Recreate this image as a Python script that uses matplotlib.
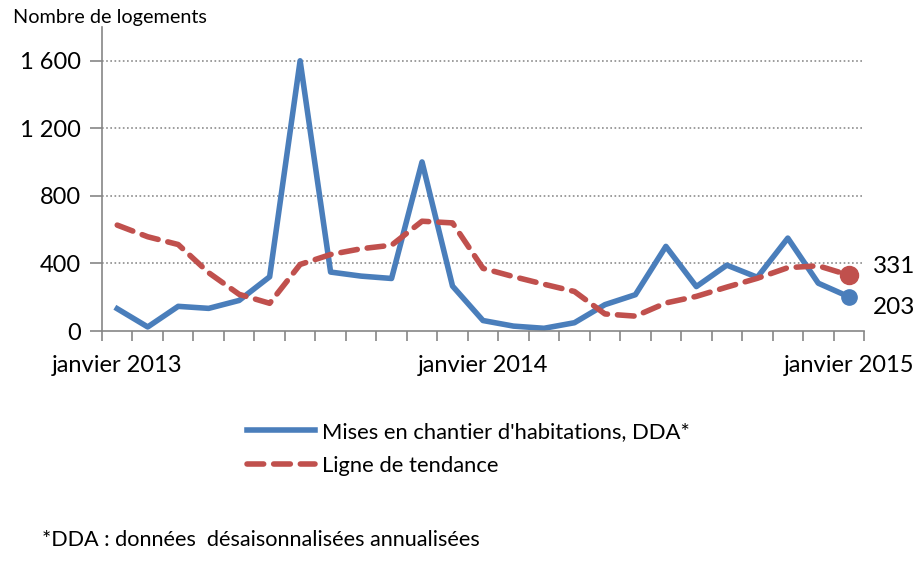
import matplotlib.pyplot as plt
from matplotlib.ticker import FixedLocator, FuncFormatter

plt.rcParams["font.family"] = ["Lato", "DejaVu Sans"]

# mois de janvier 2013 a janvier 2015
MOIS = list(range(25))
TICK_POS = [0, 12, 24]
TICK_LABELS = ["janvier 2013", "janvier 2014", "janvier 2015"]

mises_chantier = [132, 24, 146, 134, 181, 321, 1600, 349, 325, 311, 1001, 266,
                  62, 29, 16, 49, 156, 215, 501, 263, 390, 318, 550, 283, 203]
tendance = [627, 558, 512, 345, 217, 164, 394, 453, 487, 508, 650, 640,
            371, 322, 277, 234, 101, 88, 166, 205, 260, 312, 375, 386, 331]

BLEU = "#4A7EBB"
ROUGE = "#C0504D"
GRIS = "#868686"

fig = plt.figure(figsize=(9.2, 5.79), dpi=100)
ax = fig.add_axes([102 / 920, 1 - 331 / 579, 762 / 920, 304 / 579])

ax.plot(MOIS, mises_chantier, color=BLEU, lw=4, solid_joinstyle="round",
        label="Mises en chantier d'habitations, DDA*")
ax.plot(MOIS, tendance, color=ROUGE, lw=4, dashes=(3.0, 1.8),
        dash_capstyle="round", label="Ligne de tendance")
ax.plot(MOIS[-1], mises_chantier[-1], "o", color=BLEU, ms=11)
ax.plot(MOIS[-1], tendance[-1], "o", color=ROUGE, ms=13)

ax.text(24.8, tendance[-1] - 10, f"{tendance[-1]}", va="bottom", ha="left", fontsize=17.5)
ax.text(24.8, mises_chantier[-1], f"{mises_chantier[-1]}", va="top", ha="left",
        fontsize=17.5)

ax.set_xlim(-0.5, 24.5)
ax.set_ylim(0, 1800)
ax.yaxis.set_major_locator(FixedLocator([0, 400, 800, 1200, 1600]))
ax.yaxis.set_major_formatter(FuncFormatter(lambda v, p: f"{int(v):,}".replace(",", " ")))
ax.set_xticks(TICK_POS)
ax.set_xticklabels(TICK_LABELS)
ax.xaxis.set_minor_locator(FixedLocator([i - 0.5 for i in range(26)]))
ax.tick_params(axis="x", which="major", length=0, pad=17, labelsize=17)
ax.tick_params(axis="x", which="minor", length=7, width=1.2, color=GRIS, direction="out")
ax.tick_params(axis="y", length=9, width=1.2, color=GRIS, labelsize=17, pad=6)

for v in [400, 800, 1200, 1600]:
    ax.axhline(v, color="#8c8c8c", lw=1.2, ls=(0, (1, 1.5)), zorder=0)

for s in ["top", "right"]:
    ax.spines[s].set_visible(False)
for s in ["left", "bottom"]:
    ax.spines[s].set_color(GRIS)
    ax.spines[s].set_linewidth(1.2)

fig.text(13 / 920, 1 - 18 / 579, "Nombre de logements", fontsize=14.3, va="center")

fig.legend(loc="upper left", bbox_to_anchor=(227 / 920, 1 - 402 / 579), frameon=False,
           fontsize=15.8, handlelength=3.1, handletextpad=0.35, labelspacing=0.65)

fig.text(42 / 920, 1 - 540 / 579, "*DDA : données  désaisonnalisées annualisées",
         fontsize=15.6, va="center")

fig.savefig("out.png", dpi=100)
